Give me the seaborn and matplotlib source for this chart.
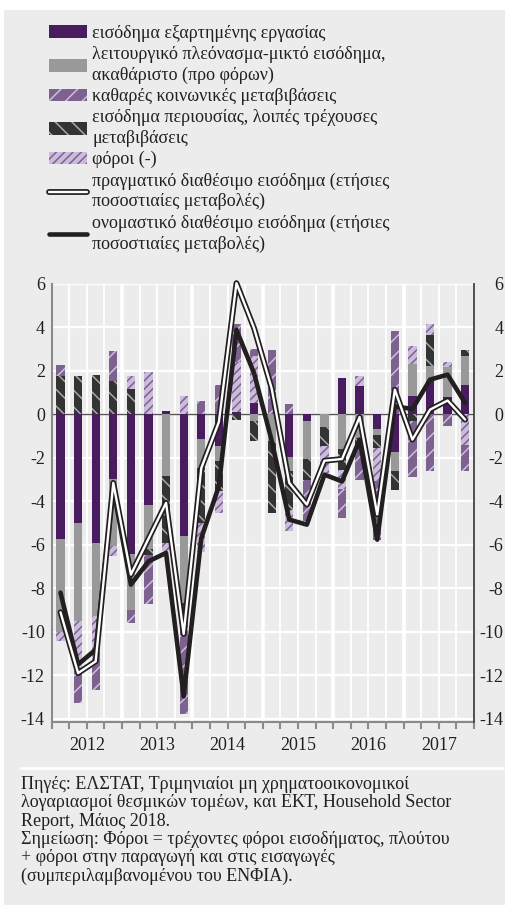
import numpy as np
import pandas as pd
import matplotlib
matplotlib.use("Agg")
import matplotlib.pyplot as plt
import matplotlib.patheffects as pe
from matplotlib.patches import Patch, Rectangle
from matplotlib.lines import Line2D
import seaborn as sns

# ---------------- data ----------------
years = ["2012", "2013", "2014", "2015", "2016", "2017"]
quarters = [f"{y}Q{q}" for y in years for q in range(1, 5)]

comp = [-5.71, -4.99, -5.91, -2.97, -6.40, -4.18, 0.14, -5.61, -1.12, -1.47, 0.12, 0.52,
        0.00, -1.98, -0.28, 0.00, 1.67, 1.32, -0.66, -1.75, 0.83, 1.52, 0.80, 1.37]
surplus = [-4.31, -4.53, -3.38, -3.10, -2.58, -2.01, -2.85, -3.06, -1.35, -0.66, 0.00, -0.32,
           -1.24, -0.61, -1.76, -0.60, -1.58, -1.10, -0.27, -0.87, 1.50, 0.72, 1.36, 1.34]
prop = [1.78, 1.78, 1.82, 1.52, 1.18, -0.26, -3.06, -0.92, -2.52, -1.41, -0.24, -0.90,
        -3.29, -1.79, -0.96, -0.84, -0.96, -0.50, -0.62, -0.84, -0.32, 1.42, 0.00, 0.26]
taxes = [-0.42, -2.30, -1.45, -0.43, 0.60, 1.95, -0.39, 0.86, -1.35, -0.99, 2.29, 2.15,
         0.00, -1.00, 0.00, -1.26, -0.90, 0.46, -1.50, 0.00, 0.83, 0.51, 0.23, -1.39]
social = [0.50, -1.45, -1.95, 1.38, -0.61, -2.27, 0.00, -4.21, 0.60, 1.37, 1.75, 0.35,
          2.97, 0.48, -1.90, 0.00, -1.33, -1.40, -2.72, 3.86, -2.56, -2.62, -0.52, -1.23]
real = [-9.10, -11.90, -11.36, -3.15, -7.37, -5.72, -4.07, -10.10, -2.47, -0.35, 6.04, 3.97,
        1.20, -3.15, -4.15, -2.13, -2.05, -0.12, -4.60, 1.14, -1.16, 0.22, 0.64, -0.24]
nominal = [-8.20, -11.50, -10.82, -3.40, -7.83, -6.76, -6.37, -12.97, -5.70, -3.30, 3.89, 1.90,
           -1.20, -4.84, -5.07, -2.77, -3.08, -1.16, -5.76, 0.37, 0.25, 1.60, 1.83, 0.52]

yticks = [-14, -12, -10, -8, -6, -4, -2, 0, 2, 4, 6]
yticklabels = ["-14", "-12", "-10", "-8", "-6", "-4", "-2", "0", "2", "4", "6"]

lab_comp = "εισόδημα εξαρτημένης εργασίας"
lab_surplus = "λειτουργικό πλεόνασμα-μικτό εισόδημα,\nακαθάριστο (προ φόρων)"
lab_social = "καθαρές κοινωνικές μεταβιβάσεις"
lab_prop = "εισόδημα περιουσίας, λοιπές τρέχουσες\nμεταβιβάσεις"
lab_taxes = "φόροι (-)"
lab_real = "πραγματικό διαθέσιμο εισόδημα (ετήσιες\nποσοστιαίες μεταβολές)"
lab_nominal = "ονομαστικό διαθέσιμο εισόδημα (ετήσιες\nποσοστιαίες μεταβολές)"

note = ("Πηγές: ΕΛΣΤΑΤ, Τριμηνιαίοι μη χρηματοοικονομικοί\n"
        "λογαριασμοί θεσμικών τομέων, και ΕΚΤ, Household Sector\n"
        "Report, Μάιος 2018.\n"
        "Σημείωση: Φόροι = τρέχοντες φόροι εισοδήματος, πλούτου\n"
        "+ φόροι στην παραγωγή και στις εισαγωγές\n"
        "(συμπεριλαμβανομένου του ΕΝΦΙΑ).")

# ---------------- style ----------------
sns.set_theme(style="white")
FAM = ["Liberation Serif", "DejaVu Serif"]
plt.rcParams["font.family"] = FAM
plt.rcParams["font.serif"] = FAM
plt.rcParams["hatch.linewidth"] = 1.1
plt.rcParams["axes.unicode_minus"] = False

BG = "#ececec"
TXT = "#231f20"
C_COMP = "#481c5e"
C_SURP = "#999999"
C_SOC, H_SOC = "#7d6290", "#cdbfda"
C_PROP, H_PROP = "#333333", "#a8a8a8"
C_TAX, H_TAX = "#cbbcdb", "#7d6290"
FS = 13

W, H = 505, 905
fig = plt.figure(figsize=(W / 100, H / 100), dpi=100, facecolor="white")
fig.add_artist(Rectangle((4 / W, 0), 1 - 4 / W, 1 - 10 / H, transform=fig.transFigure,
                         facecolor=BG, edgecolor="none", zorder=-10))

left, right, top, bottom = 51.7, 474, 284, 722
ax = fig.add_axes([left / W, 1 - bottom / H, (right - left) / W, (bottom - top) / H])
ax.set_facecolor("none")

x = np.arange(len(quarters))
ax.set_xlim(-0.5, len(quarters) - 0.5)
ax.set_ylim(-14.15, 6)

# grid
for yv in yticks:
    ax.axhline(yv, color="white", lw=1.6, zorder=0.5)
for i in range(1, len(quarters)):
    ax.axvline(i - 0.5, color="white", lw=2.6 if i % 4 == 0 else 1.3, zorder=0.5)
ax.axhline(0, color="#555555", lw=1.0, zorder=1)

# stacked bars (positive and negative stacked separately)
layers = [
    (comp, dict(color=C_COMP)),
    (surplus, dict(color=C_SURP)),
    (prop, dict(color=C_PROP, hatch="\\\\", edgecolor=H_PROP)),
    (taxes, dict(color=C_TAX, hatch="////", edgecolor=H_TAX)),
    (social, dict(color=C_SOC, hatch="//", edgecolor=H_SOC)),
]
pos = np.zeros(len(x))
neg = np.zeros(len(x))
for vals, st in layers:
    v = np.asarray(vals, dtype=float)
    base = np.where(v >= 0, pos, neg)
    ax.bar(x, v, bottom=base, width=0.47, linewidth=0, zorder=2, **st)
    pos = pos + np.where(v >= 0, v, 0)
    neg = neg + np.where(v < 0, v, 0)

# lines
df = pd.DataFrame({"x": x, "real": real, "nominal": nominal})
sns.lineplot(data=df, x="x", y="nominal", ax=ax, color="#231f20", lw=3.3,
             zorder=3, legend=False, clip_on=False)
sns.lineplot(data=df, x="x", y="real", ax=ax, color="white", lw=1.7, zorder=4,
             legend=False, clip_on=False,
             path_effects=[pe.Stroke(linewidth=4.2, foreground="#231f20"), pe.Normal()])
ax.set_xlabel("")
ax.set_ylabel("")

# axes decoration
for s in ["top", "right"]:
    ax.spines[s].set_visible(False)
ax.spines["left"].set_color("#8a8a8a")
ax.spines["left"].set_linewidth(1.5)
ax.spines["bottom"].set_color("#8a8a8a")
ax.spines["bottom"].set_linewidth(1.5)

ax.set_yticks(yticks)
ax.set_yticklabels(yticklabels, fontsize=FS, color=TXT, family=FAM)
ax.tick_params(axis="y", left=False, labelleft=True, length=0, pad=5)

ax.xaxis.remove_overlapping_locs = False
ax.set_xticks(np.arange(-0.5, len(quarters), 1.0))
ax.set_xticklabels([])
ax.tick_params(axis="x", which="major", bottom=True, direction="out", length=5,
               width=1.5, color="#8a8a8a")
ax.set_xticks(np.arange(1.5, len(quarters), 4.0), minor=True)
ax.set_xticklabels(years, minor=True, fontsize=FS, color=TXT, family=FAM)
ax.tick_params(axis="x", which="minor", bottom=True, labelbottom=True, length=0, pad=11)

ax2 = ax.twinx()
ax2.set_ylim(ax.get_ylim())
for s in ["top", "left", "bottom"]:
    ax2.spines[s].set_visible(False)
ax2.spines["right"].set_color("#444444")
ax2.spines["right"].set_linewidth(1.3)
ax2.tick_params(axis="y", right=False, labelright=True, length=0, pad=21)
ax2.set_yticks(yticks)
ax2.set_yticklabels(yticklabels, fontsize=FS, color=TXT, ha="right", family=FAM)
ax2.grid(False)

# legend
handles = [
    Patch(facecolor=C_COMP, edgecolor="none"),
    Patch(facecolor=C_SURP, edgecolor="none"),
    Patch(facecolor=C_SOC, hatch="//", edgecolor=H_SOC, linewidth=0),
    Patch(facecolor=C_PROP, hatch="\\\\", edgecolor=H_PROP, linewidth=0),
    Patch(facecolor=C_TAX, hatch="////", edgecolor=H_TAX, linewidth=0),
    (Line2D([], [], color="#231f20", lw=4.2), Line2D([], [], color="white", lw=1.7)),
    Line2D([], [], color="#231f20", lw=3.3),
]
labels = [lab_comp, lab_surplus, lab_social, lab_prop, lab_taxes, lab_real, lab_nominal]
leg = fig.legend(handles, labels, loc="upper left", bbox_to_anchor=(49 / W, 1 - 25 / H),
                 frameon=False, prop={"family": FAM, "size": FS}, handlelength=2.1,
                 handletextpad=0.3, labelspacing=0.24, borderpad=0, borderaxespad=0)
for t in leg.get_texts():
    t.set_color(TXT)
    t.set_linespacing(1.24)

# separator and notes
fig.add_artist(Line2D([21 / W, 503 / W], [1 - 768 / H] * 2, color="white", lw=2,
                      transform=fig.transFigure))
fig.text(21 / W, 1 - 776 / H, note, ha="left", va="top", fontsize=FS, color=TXT,
         linespacing=1.1, family=FAM)

fig.savefig("out.png", dpi=100, facecolor=fig.get_facecolor())
